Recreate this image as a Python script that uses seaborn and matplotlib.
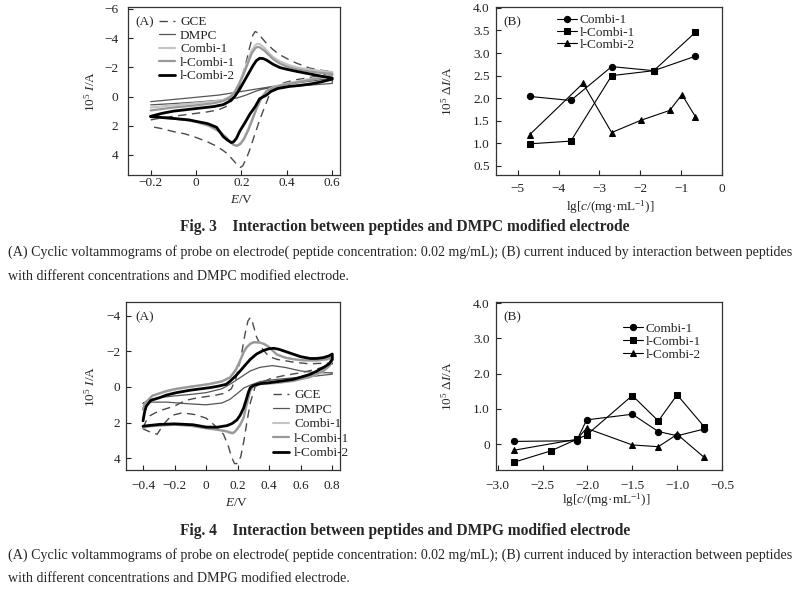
import matplotlib
matplotlib.use("Agg")
import matplotlib.pyplot as plt
import seaborn as sns
import pandas as pd

# ---------- Fig.3 (A): cyclic voltammograms on DMPC electrode, (E/V, 1e5 I/A) ----------
gce_3 = [(-0.2, 1.6), (-0.15, 1.45), (-0.1, 1.35), (-0.05, 1.25), (0.0, 1.15), (0.05, 1.05),
         (0.1, 0.9), (0.13, 0.7), (0.16, 0.25), (0.175, -0.2), (0.19, -0.7), (0.205, -1.5),
         (0.22, -2.3), (0.235, -3.3), (0.25, -4.2), (0.26, -4.45), (0.275, -4.35), (0.29, -4.0),
         (0.31, -3.65), (0.34, -3.2), (0.37, -2.85), (0.4, -2.6), (0.44, -2.3), (0.5, -1.95),
         (0.55, -1.8), (0.6, -1.7),
         (0.6, -1.65), (0.55, -1.45), (0.5, -1.3), (0.44, -1.15), (0.4, -1.0), (0.37, -0.85),
         (0.34, -0.5), (0.32, 0.0), (0.3, 0.8), (0.28, 1.6), (0.265, 2.3), (0.25, 3.0),
         (0.235, 3.7), (0.22, 4.3), (0.205, 4.75), (0.195, 4.85), (0.18, 4.65), (0.16, 4.3),
         (0.14, 3.95), (0.12, 3.7), (0.09, 3.4), (0.05, 3.1), (0.0, 2.8), (-0.05, 2.55),
         (-0.1, 2.4), (-0.15, 2.2), (-0.2, 2.05)]
dmpc_3 = [(-0.2, 0.35), (-0.1, 0.2), (0.0, 0.05), (0.1, -0.1), (0.16, -0.25), (0.2, -0.35),
          (0.3, -0.6), (0.4, -0.85), (0.5, -1.05), (0.6, -1.25),
          (0.6, -0.9), (0.5, -0.78), (0.4, -0.68), (0.33, -0.6), (0.29, -0.5), (0.26, -0.35),
          (0.22, -0.1), (0.18, 0.1), (0.12, 0.23), (0.0, 0.38), (-0.1, 0.48), (-0.2, 0.57)]
combi1_3 = [(-0.2, 0.75), (-0.1, 0.6), (0.0, 0.45), (0.08, 0.33), (0.12, 0.22), (0.15, 0.0),
            (0.17, -0.35), (0.19, -0.95), (0.21, -1.7), (0.23, -2.55), (0.245, -3.15),
            (0.26, -3.5), (0.27, -3.62), (0.28, -3.6), (0.3, -3.35), (0.32, -3.0), (0.34, -2.7),
            (0.37, -2.4), (0.41, -2.15), (0.45, -1.98), (0.5, -1.85), (0.55, -1.75), (0.6, -1.68),
            (0.6, -1.55), (0.55, -1.35), (0.5, -1.2), (0.45, -1.05), (0.41, -0.93), (0.37, -0.8),
            (0.34, -0.65), (0.31, -0.4), (0.29, 0.0), (0.27, 0.6), (0.25, 1.4), (0.23, 2.2),
            (0.21, 2.85), (0.195, 3.2), (0.18, 3.35), (0.165, 3.3), (0.15, 3.1), (0.13, 2.8),
            (0.1, 2.4), (0.06, 2.05), (0.0, 1.75), (-0.05, 1.6), (-0.1, 1.5), (-0.2, 1.35)]
lcombi1_3 = [(-0.2, 0.95), (-0.1, 0.75), (0.0, 0.6), (0.08, 0.45), (0.12, 0.3), (0.15, 0.05),
             (0.17, -0.3), (0.19, -0.85), (0.21, -1.55), (0.23, -2.35), (0.245, -2.95),
             (0.26, -3.3), (0.27, -3.4), (0.28, -3.37), (0.3, -3.15), (0.32, -2.85), (0.34, -2.55),
             (0.37, -2.25), (0.41, -2.0), (0.45, -1.85), (0.5, -1.72), (0.55, -1.62), (0.6, -1.55),
             (0.6, -1.45), (0.55, -1.28), (0.5, -1.12), (0.45, -0.98), (0.41, -0.87), (0.37, -0.74),
             (0.34, -0.6), (0.31, -0.35), (0.29, 0.05), (0.27, 0.7), (0.25, 1.5), (0.23, 2.3),
             (0.21, 2.95), (0.195, 3.25), (0.18, 3.38), (0.165, 3.3), (0.15, 3.1), (0.13, 2.75),
             (0.1, 2.35), (0.06, 2.0), (0.0, 1.7), (-0.05, 1.6), (-0.1, 1.5), (-0.2, 1.4)]
lcombi2_3 = [(-0.2, 1.35), (-0.15, 1.15), (-0.1, 1.0), (0.0, 0.82), (0.08, 0.68), (0.12, 0.55),
             (0.15, 0.3), (0.17, 0.0), (0.19, -0.45), (0.21, -1.0), (0.23, -1.55), (0.25, -2.1),
             (0.265, -2.45), (0.28, -2.62), (0.295, -2.6), (0.31, -2.5), (0.34, -2.2), (0.37, -1.98),
             (0.41, -1.83), (0.45, -1.7), (0.5, -1.55), (0.55, -1.4), (0.6, -1.26),
             (0.6, -1.19), (0.55, -1.0), (0.5, -0.85), (0.45, -0.75), (0.41, -0.69), (0.36, -0.55),
             (0.33, -0.35), (0.31, -0.1), (0.28, 0.15), (0.26, 0.7), (0.237, 1.2), (0.215, 1.8),
             (0.193, 2.35), (0.178, 2.85), (0.165, 3.1), (0.155, 3.15), (0.14, 3.0), (0.12, 2.75),
             (0.09, 2.1), (0.05, 1.85), (0.0, 1.7), (-0.03, 1.6), (-0.1, 1.5), (-0.2, 1.37)]

# ---------- Fig.4 (A): cyclic voltammograms on DMPG electrode ----------
gce_4 = [(-0.4, 2.3), (-0.38, 1.9), (-0.36, 1.63), (-0.3, 1.35), (-0.2, 1.07), (-0.13, 0.75),
         (-0.05, 0.6), (0.05, 0.48), (0.12, 0.35), (0.16, 0.1), (0.19, -0.5), (0.22, -1.6),
         (0.245, -2.9), (0.265, -3.7), (0.28, -3.9), (0.295, -3.6), (0.32, -2.8), (0.36, -2.1),
         (0.4, -1.7), (0.45, -1.55), (0.55, -1.4), (0.65, -1.3), (0.8, -1.35),
         (0.8, -1.3), (0.7, -1.0), (0.6, -0.8), (0.5, -0.65), (0.42, -0.5), (0.36, -0.3),
         (0.31, 0.0), (0.28, 0.9), (0.26, 1.9), (0.24, 3.0), (0.22, 3.9), (0.2, 4.3),
         (0.18, 4.3), (0.16, 3.9), (0.14, 3.3), (0.11, 2.65), (0.06, 2.2), (0.0, 1.75),
         (-0.07, 1.55), (-0.15, 1.45), (-0.22, 1.6), (-0.27, 2.1), (-0.31, 2.65), (-0.35, 2.55),
         (-0.4, 2.35)]
dmpc_4 = [(-0.4, 0.92), (-0.37, 0.75), (-0.3, 0.6), (-0.2, 0.5), (-0.1, 0.42), (0.0, 0.32),
          (0.1, 0.1), (0.16, -0.2), (0.22, -0.55), (0.28, -0.9), (0.34, -1.1), (0.42, -1.2),
          (0.5, -1.1), (0.6, -0.9), (0.7, -0.8), (0.8, -0.8),
          (0.8, -0.72), (0.7, -0.62), (0.6, -0.55), (0.45, -0.43), (0.34, -0.3), (0.28, -0.1),
          (0.24, 0.05), (0.2, 0.35), (0.15, 0.7), (0.1, 0.9), (0.0, 1.0), (-0.1, 0.95),
          (-0.25, 0.85), (-0.35, 0.85), (-0.4, 0.92)]
combi1_4 = [(-0.4, 1.3), (-0.39, 0.97), (-0.34, 0.51), (-0.25, 0.25), (-0.19, 0.13), (-0.1, 0.0),
            (0.02, -0.15), (0.1, -0.3), (0.153, -0.52), (0.19, -0.95), (0.216, -1.46),
            (0.24, -1.95), (0.258, -2.21), (0.28, -2.4), (0.3, -2.49), (0.34, -2.49),
            (0.37, -2.42), (0.395, -2.3), (0.42, -2.08), (0.448, -1.84), (0.5, -1.65),
            (0.553, -1.55), (0.62, -1.48), (0.7, -1.47), (0.76, -1.52), (0.8, -1.6),
            (0.8, -1.5), (0.78, -1.15), (0.74, -0.85), (0.66, -0.55), (0.553, -0.33),
            (0.45, -0.22), (0.343, -0.15), (0.3, -0.05), (0.28, 0.22), (0.258, 0.97),
            (0.237, 1.72), (0.215, 2.1), (0.2, 2.28), (0.185, 2.45), (0.17, 2.55), (0.15, 2.52),
            (0.132, 2.47), (0.068, 2.38), (0.0, 2.3), (-0.1, 2.15), (-0.2, 2.1), (-0.3, 2.15),
            (-0.37, 2.2), (-0.4, 2.28)]
lcombi1_4 = [(-0.4, 1.25), (-0.39, 0.93), (-0.34, 0.48), (-0.25, 0.22), (-0.19, 0.1), (-0.1, -0.02),
             (0.02, -0.17), (0.1, -0.32), (0.153, -0.55), (0.19, -1.0), (0.216, -1.5),
             (0.24, -2.0), (0.258, -2.25), (0.28, -2.43), (0.3, -2.52), (0.34, -2.5),
             (0.37, -2.4), (0.395, -2.25), (0.42, -2.05), (0.448, -1.82), (0.5, -1.65),
             (0.553, -1.56), (0.62, -1.5), (0.7, -1.5), (0.76, -1.56), (0.8, -1.65),
             (0.8, -1.52), (0.78, -1.18), (0.74, -0.88), (0.66, -0.57), (0.553, -0.35),
             (0.45, -0.24), (0.343, -0.17), (0.3, -0.07), (0.28, 0.2), (0.258, 0.95),
             (0.237, 1.75), (0.215, 2.15), (0.2, 2.33), (0.185, 2.5), (0.17, 2.6), (0.15, 2.57),
             (0.132, 2.5), (0.068, 2.4), (0.0, 2.32), (-0.1, 2.18), (-0.2, 2.12), (-0.3, 2.17),
             (-0.37, 2.22), (-0.4, 2.3)]
lcombi2_4 = [(-0.4, 1.9), (-0.39, 1.4), (-0.379, 1.07), (-0.35, 0.75), (-0.295, 0.6), (-0.25, 0.45),
             (-0.189, 0.32), (-0.1, 0.18), (0.022, 0.04), (0.08, -0.05), (0.127, -0.15),
             (0.153, -0.33), (0.185, -0.6), (0.216, -0.9), (0.25, -1.25), (0.28, -1.55),
             (0.32, -1.85), (0.363, -2.05), (0.4, -2.15), (0.43, -2.17), (0.46, -2.12),
             (0.5, -2.0), (0.553, -1.84), (0.6, -1.7), (0.66, -1.6), (0.7, -1.6), (0.744, -1.65),
             (0.78, -1.75), (0.8, -1.85),
             (0.8, -1.55), (0.78, -1.3), (0.744, -1.09), (0.7, -0.88), (0.66, -0.71), (0.6, -0.55),
             (0.553, -0.43), (0.5, -0.36), (0.448, -0.3), (0.4, -0.24), (0.343, -0.19), (0.3, -0.08),
             (0.28, 0.04), (0.268, 0.3), (0.255, 0.7), (0.237, 1.2), (0.215, 1.6), (0.195, 1.85),
             (0.165, 2.05), (0.132, 2.17), (0.068, 2.26), (0.0, 2.25), (-0.083, 2.12),
             (-0.2, 2.07), (-0.295, 2.1), (-0.37, 2.17), (-0.4, 2.2)]

# ---------- (B) panels: 1e5 dI/A vs lg c ----------
lgc_3 = [-4.71, -3.70, -2.70, -1.67, -0.65]
combi1_b3 = [2.04, 1.95, 2.70, 2.61, 2.93]
lcombi1_b3 = [0.99, 1.05, 2.50, 2.61, 3.46]
lgc_3_l2 = [-4.71, -3.40, -2.70, -1.99, -1.28, -0.98, -0.65]
lcombi2_b3 = [1.19, 2.33, 1.24, 1.51, 1.73, 2.08, 1.59]

lgc_4 = [-2.82, -2.12, -2.01, -1.50, -1.21, -1.00, -0.70]
combi1_b4 = [0.08, 0.10, 0.69, 0.85, 0.36, 0.24, 0.43]
lgc_4_l1 = [-2.82, -2.41, -2.12, -2.01, -1.50, -1.21, -1.00, -0.70]
lcombi1_b4 = [-0.51, -0.19, 0.14, 0.26, 1.38, 0.66, 1.40, 0.50]
lcombi2_b4 = [-0.17, 0.14, 0.45, -0.02, -0.07, 0.28, -0.37]

cv_names = ["GCE", "DMPC", "Combi-1", "l-Combi-1", "l-Combi-2"]
cv_styles = [dict(color="#4a4a4a", lw=1.0, linestyle=(0, (6, 4))),
             dict(color="#555555", lw=0.9),
             dict(color="#c4c4c4", lw=1.5),
             dict(color="#999999", lw=1.6),
             dict(color="black", lw=2.0)]

sns.set_theme(style="ticks")
plt.rcParams["font.family"] = ["Liberation Serif", "DejaVu Serif"]
plt.rcParams["mathtext.fontset"] = "custom"
plt.rcParams["mathtext.rm"] = "Liberation Serif"
plt.rcParams["mathtext.it"] = "Liberation Serif:italic"
plt.rcParams["mathtext.bf"] = "Liberation Serif:bold"
plt.rcParams["axes.edgecolor"] = "#333333"
plt.rcParams["axes.linewidth"] = 0.9

FS = 9.5


def lab(v, dec=1):
    if abs(v) < 1e-9:
        return "0"
    return f"{v:.{dec}f}".replace("-", "\u2212")


def cv_panel(ax, curves):
    for pts, name, st in zip(curves, cv_names, cv_styles):
        df = pd.DataFrame(pts, columns=["E", "I"])
        sns.lineplot(data=df, x="E", y="I", sort=False, estimator=None, errorbar=None,
                     ax=ax, label=name, **st)


def style_ax(ax, xpad, ypad):
    ax.tick_params(direction="in", length=3.5, width=0.8, labelsize=FS, colors="#222222",
                   top=False, right=False)
    ax.tick_params(axis="x", pad=xpad)
    ax.tick_params(axis="y", pad=ypad)


fig = plt.figure(figsize=(8.09, 5.90), dpi=100)
W, H = 809, 590


def box(l, t, r, b):
    return [l / W, 1 - b / H, (r - l) / W, (b - t) / H]


# ----- Fig.3 A -----
ax1 = fig.add_axes(box(128, 7, 340, 175))
cv_panel(ax1, [gce_3, dmpc_3, combi1_3, lcombi1_3, lcombi2_3])
ax1.set_xlim(-0.3, 0.634)
ax1.set_ylim(5.37, -6.13)
xt = [-0.2, 0.0, 0.2, 0.4, 0.6]
ax1.set_xticks(xt, [lab(v) for v in xt])
yt = [-6, -4, -2, 0, 2, 4]
ax1.set_yticks(yt, [lab(v, 0) for v in yt])
style_ax(ax1, 1.5, 7)
ax1.set_xlabel("$E$/V", fontsize=FS)
ax1.set_ylabel("10$^5$ $I$/A", fontsize=FS)
ax1.xaxis.set_label_coords(0.536, -0.113)
ax1.yaxis.set_label_coords(-0.142, 0.5)
ax1.text(0.033, 0.91, "(A)", transform=ax1.transAxes, fontsize=FS, va="center")
ax1.legend(loc="upper left", bbox_to_anchor=(0.146, 0.947), frameon=False, fontsize=FS,
           handlelength=1.2, handletextpad=0.4, labelspacing=0.1, borderpad=0, borderaxespad=0)

# ----- Fig.3 B -----
ax2 = fig.add_axes(box(496, 7, 722, 175))
sns.lineplot(x=lgc_3, y=combi1_b3, marker="o", ax=ax2, label="Combi-1", color="black",
             lw=0.8, markersize=4.5, markeredgecolor="black")
sns.lineplot(x=lgc_3, y=lcombi1_b3, marker="s", ax=ax2, label="l-Combi-1", color="black",
             lw=0.8, markersize=4.2, markeredgecolor="black")
sns.lineplot(x=lgc_3_l2, y=lcombi2_b3, marker="^", ax=ax2, label="l-Combi-2", color="black",
             lw=0.8, markersize=4.8, markeredgecolor="black")
ax2.set_xlim(-5.53, 0.0)
ax2.set_ylim(0.3, 4.02)
ax2.set_xticks([-5, -4, -3, -2, -1, 0], [lab(v, 0) for v in [-5, -4, -3, -2, -1, 0]])
yt2 = [0.5, 1.0, 1.5, 2.0, 2.5, 3.0, 3.5, 4.0]
ax2.set_yticks(yt2, [lab(v) for v in yt2])
style_ax(ax2, 6, 4.5)
ax2.set_xlabel("lg[$c$/(mg\u00b7mL$^{-1}$)]", fontsize=FS)
ax2.set_ylabel("10$^5$ \u0394$I$/A", fontsize=FS)
ax2.xaxis.set_label_coords(0.504, -0.137)
ax2.yaxis.set_label_coords(-0.185, 0.5)
ax2.text(0.031, 0.912, "(B)", transform=ax2.transAxes, fontsize=FS, va="center")
ax2.legend(loc="upper left", bbox_to_anchor=(0.27, 0.958), frameon=False, fontsize=FS,
           handlelength=1.5, handletextpad=0.2, labelspacing=0.0, borderpad=0, borderaxespad=0)

# ----- Fig.4 A -----
ax3 = fig.add_axes(box(126, 302, 340, 470))
cv_panel(ax3, [gce_4, dmpc_4, combi1_4, lcombi1_4, lcombi2_4])
ax3.set_xlim(-0.508, 0.849)
ax3.set_ylim(4.66, -4.77)
xt3 = [-0.4, -0.2, 0.0, 0.2, 0.4, 0.6, 0.8]
ax3.set_xticks(xt3, [lab(v) for v in xt3])
yt3 = [-4, -2, 0, 2, 4]
ax3.set_yticks(yt3, [lab(v, 0) for v in yt3])
style_ax(ax3, 7, 4)
ax3.set_xlabel("$E$/V", fontsize=FS)
ax3.set_ylabel("10$^5$ $I$/A", fontsize=FS)
ax3.xaxis.set_label_coords(0.517, -0.16)
ax3.yaxis.set_label_coords(-0.131, 0.5)
ax3.text(0.045, 0.91, "(A)", transform=ax3.transAxes, fontsize=FS, va="center")
ax3.legend(loc="upper left", bbox_to_anchor=(0.687, 0.482), frameon=False, fontsize=FS,
           handlelength=1.2, handletextpad=0.4, labelspacing=0.17, borderpad=0, borderaxespad=0)

# ----- Fig.4 B -----
ax4 = fig.add_axes(box(496, 302, 722, 470))
sns.lineplot(x=lgc_4, y=combi1_b4, marker="o", ax=ax4, label="Combi-1", color="black",
             lw=0.8, markersize=4.5, markeredgecolor="black")
sns.lineplot(x=lgc_4_l1, y=lcombi1_b4, marker="s", ax=ax4, label="l-Combi-1", color="black",
             lw=0.8, markersize=4.2, markeredgecolor="black")
sns.lineplot(x=lgc_4, y=lcombi2_b4, marker="^", ax=ax4, label="l-Combi-2", color="black",
             lw=0.8, markersize=4.8, markeredgecolor="black")
ax4.set_xlim(-3.02, -0.5)
ax4.set_ylim(-0.73, 4.03)
xt4 = [-3.0, -2.5, -2.0, -1.5, -1.0, -0.5]
ax4.set_xticks(xt4, [lab(v) for v in xt4])
yt4 = [0.0, 1.0, 2.0, 3.0, 4.0]
ax4.set_yticks(yt4, [lab(v) for v in yt4])
style_ax(ax4, 7, 4.5)
ax4.set_xlabel("lg[$c$/(mg\u00b7mL$^{-1}$)]", fontsize=FS)
ax4.set_ylabel("10$^5$ \u0394$I$/A", fontsize=FS)
ax4.xaxis.set_label_coords(0.49, -0.125)
ax4.yaxis.set_label_coords(-0.185, 0.5)
ax4.text(0.031, 0.912, "(B)", transform=ax4.transAxes, fontsize=FS, va="center")
ax4.legend(loc="upper left", bbox_to_anchor=(0.562, 0.879), frameon=False, fontsize=FS,
           handlelength=1.5, handletextpad=0.2, labelspacing=0.07, borderpad=0, borderaxespad=0)

# ----- captions -----
title3 = "Fig. 3    Interaction between peptides and DMPC modified electrode"
title4 = "Fig. 4    Interaction between peptides and DMPG modified electrode"
body_a = ("(A) Cyclic voltammograms of probe on electrode( peptide concentration: 0.02 mg/mL); "
          "(B) current induced by interaction between peptides")
body3 = "with different concentrations and DMPC modified electrode."
body4 = "with different concentrations and DMPG modified electrode."

fig.text(405 / W, 1 - 227 / H, title3, ha="center", va="center", fontsize=11.2, fontweight="bold")
fig.text(8 / W, 1 - 252 / H, body_a, ha="left", va="center", fontsize=10.1)
fig.text(8 / W, 1 - 276 / H, body3, ha="left", va="center", fontsize=10.1)
fig.text(405 / W, 1 - 531 / H, title4, ha="center", va="center", fontsize=11.2, fontweight="bold")
fig.text(8 / W, 1 - 555 / H, body_a, ha="left", va="center", fontsize=10.1)
fig.text(8 / W, 1 - 578 / H, body4, ha="left", va="center", fontsize=10.1)

fig.savefig("out.png", dpi=100, facecolor="white")
